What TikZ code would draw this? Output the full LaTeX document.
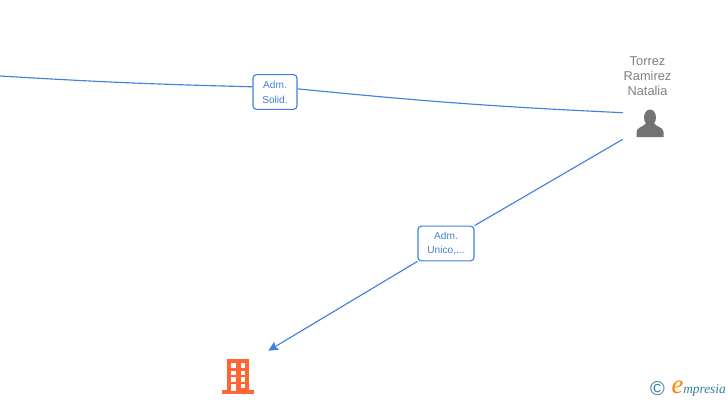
\documentclass[tikz,border=0pt]{standalone}
\usepackage{fontspec}
\setmainfont{Liberation Sans}
\newfontfamily\logofont{Liberation Serif}
\usepackage{tikz}
\usetikzlibrary{positioning,arrows.meta}
\definecolor{linkblue}{HTML}{3F80E0}
\definecolor{namegrey}{HTML}{808080}
\definecolor{iconorange}{HTML}{FF6633}
\definecolor{logoteal}{HTML}{2F7F9F}
\tikzset{
  linkarrow/.style={-{Stealth[length=2.6mm,width=2.4mm,inset=0.5mm]}, linkblue, line width=0.85pt},
  linkline/.style={linkblue, line width=0.85pt},
  rolebox/.style={draw=linkblue, rounded corners=2.5pt, fill=white, line width=0.85pt, text=linkblue, inner sep=0pt, align=center, font=\fontsize{7.6}{11.2}\selectfont},
  iconbox/.style={inner sep=0pt, minimum width=40.5pt, minimum height=39pt},
  namelabel/.style={text=namegrey, align=center, font=\fontsize{9.6}{11.25}\selectfont}
}

\begin{document}
\begin{tikzpicture}[x=0.75pt, y=-0.75pt]
  \useasboundingbox (0,0) rectangle (728,400);
  % people and companies
  \node[iconbox] (person) at (650,126) {};
  \node[iconbox, minimum width=45pt, minimum height=37.5pt] (company) at (238,376) {};
  \node[namelabel] (name) at (647.5,76) {Torrez\\Ramirez\\Natalia};
  \coordinate (offpage) at (0,76);
  % role boxes
  \node[rolebox, minimum width=33pt, minimum height=26pt] (solid) at (275,92) {Adm.\\Solid.};
  \node[rolebox, minimum width=42pt, minimum height=26pt] (unico) at (446,243.5) {Adm.\\Unico,...};
  % links
  \draw[linkline] (offpage) to[bend left=-1] (solid.167);
  \draw[linkline] (solid.8) to[bend left=-1.5] (person.154);
  \draw[linkline] (person.206) -- (unico.north east);
  \draw[linkarrow] (unico.south west) -- (company.north east);
  % person icon
  \begin{scope}[shift={(person.center)}]
    \fill[namegrey!90!black] (0,-8.5) ellipse (6 and 8);
    \fill[namegrey!90!black] (-13.5,11) -- (-13.5,6) .. controls (-13.5,1) and (-6,1) .. (-4,-3)
      -- (4,-3) .. controls (6,1) and (13.5,1) .. (13.5,6) -- (13.5,11) -- cycle;
  \end{scope}
  % company icon
  \begin{scope}[shift={(company.center)}]
    \fill[iconorange] (-11,-17) rectangle (11,15);
    \fill[iconorange] (-16,14) rectangle (16,18);
    \foreach \rowy in {-13,-5.5,1} {
      \fill[white] (-7,\rowy) rectangle (-2.5,\rowy+4.5);
      \fill[white] (2.5,\rowy) rectangle (7,\rowy+4.5);
    }
    \fill[white] (-7,8) rectangle (-2.5,14.5);
    \fill[white] (2.5,8) rectangle (7,12);
  \end{scope}
  % logo
  \node[text=logoteal, font=\fontsize{15}{15}\selectfont] (copyr) at (657.5,389) {©};
  \node[text=orange, font=\logofont\itshape\fontsize{20}{20}\selectfont] (logoe) at (677.5,387) {e};
  \node[text=logoteal, font=\logofont\itshape\fontsize{10}{10}\selectfont, anchor=west, inner sep=0pt] (logotext) at (683,390) {mpresia};
\end{tikzpicture}
\end{document}
